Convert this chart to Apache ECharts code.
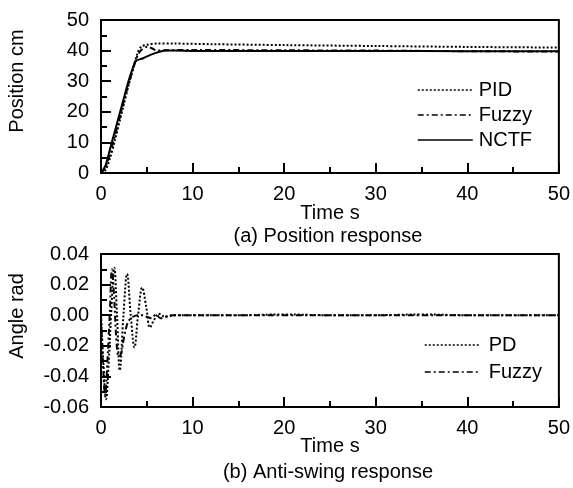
<!DOCTYPE html>
<html>
<head>
<meta charset="utf-8">
<script src="https://cdn.jsdelivr.net/npm/echarts@6/dist/echarts.min.js"></script>
<style>
html,body{margin:0;padding:0;background:#fff;}
#chart{width:573px;height:488px;}
</style>
</head>
<body>
<div id="chart"></div>
<script>
// ---- Data: (a) Position response ----
var xTicks = [0, 10, 20, 30, 40, 50];
var posTicks = [0, 10, 20, 30, 40, 50];
var angleTicks = [-0.06, -0.04, -0.02, 0.00, 0.02, 0.04];

var pidT   = [0, 0.5, 1, 1.5, 2, 2.5, 3, 3.5, 4, 4.4, 5.2, 6.1, 8, 12, 20, 30, 40, 50];
var pidY   = [0, 1, 5, 10.5, 16.5, 22.5, 28.5, 34, 39.3, 41.3, 42.0, 42.3, 42.3, 42.1, 41.8, 41.5, 41.2, 41.0];

var fuzzyT = [0, 0.5, 1, 1.5, 2, 2.5, 3, 3.5, 4, 4.4, 5.1, 5.6, 6.1, 7, 10, 20, 30, 40, 50];
var fuzzyY = [0, 2, 6.5, 12, 17.5, 23.5, 29, 34, 38.4, 40.2, 41.3, 40.7, 40.0, 40.1, 40.2, 40.1, 40.0, 39.8, 39.7];

var nctfT  = [0, 0.5, 1, 1.5, 2, 2.5, 3, 3.5, 3.8, 4.6, 5.4, 6.4, 7.1, 8, 10, 20, 30, 40, 50];
var nctfY  = [0, 2.5, 8, 13.5, 19, 24.5, 30, 34.5, 36.6, 37.5, 38.6, 39.6, 40.0, 40.0, 39.9, 39.9, 39.9, 39.8, 39.8];

// ---- Data: (b) Anti-swing response ----
var pdT   = [0, 0.25, 0.55, 0.85, 1.1, 1.45, 1.75, 2.05, 2.45, 2.85, 3.25, 3.65, 4.05, 4.5, 4.95, 5.35, 5.8, 6.3, 7, 8, 10, 15, 20, 25, 30, 35, 40, 45, 50];
var pdY   = [0, -0.03, -0.055, -0.03, 0.0, 0.031, 0.0, -0.036, 0.0, 0.027, 0.0, -0.021, 0.0, 0.018, 0.005, -0.008, -0.003, 0.001, -0.001, 0.0, 0.0, 0.0, 0.0005, 0.0, 0.0, 0.0005, 0.0, 0.0, 0.0];

var fzT   = [0, 0.2, 0.45, 0.7, 0.95, 1.2, 1.45, 1.7, 1.95, 2.2, 2.5, 2.8, 3.1, 3.5, 4, 4.5, 5, 5.5, 6, 6.5, 7, 8, 10, 15, 20, 25, 30, 35, 40, 45, 50];
var fzY   = [0, -0.03, -0.052, -0.03, 0.0, 0.03, 0.01, -0.018, -0.027, -0.025, -0.015, -0.007, -0.003, -0.001, 0.0, 0.0, -0.001, -0.002, 0.0005, -0.002, -0.001, 0.0, 0.0, 0.0, 0.0, 0.0, 0.0, 0.0, 0.0, 0.0, 0.0];

function pairs(t, v) { return t.map(function (x, i) { return [x, v[i]]; }); }

var FONT = 'Liberation Sans, Arial, sans-serif';
var BLACK = '#000';

function xAxisCfg(gi) {
  return {
    type: 'value', gridIndex: gi, min: xTicks[0], max: xTicks[xTicks.length - 1], interval: 10,
    axisLine: { show: true, onZero: false, lineStyle: { color: BLACK, width: 2 } },
    axisTick: { show: true, inside: true, length: 10, lineStyle: { color: BLACK, width: 2 } },
    minorTick: { show: true, splitNumber: 2, length: 6, lineStyle: { color: BLACK, width: 2 } },
    splitLine: { show: false },
    axisLabel: { color: BLACK, fontFamily: FONT, fontSize: 20, margin: 11 }
  };
}

var legendBase = {
  orient: 'vertical', itemWidth: 55, itemHeight: 14, selectedMode: false,
  itemStyle: { color: 'rgba(0,0,0,0)', borderWidth: 0 },
  lineStyle: { color: BLACK, width: 1.5 }
};

var chart = echarts.init(document.getElementById('chart'), null, { renderer: 'canvas' });
var option = {
  backgroundColor: '#fff',
  animation: false,
  grid: [
    { left: 101, top: 20, width: 458, height: 153, show: true, borderColor: BLACK, borderWidth: 2 },
    { left: 101, top: 254, width: 458, height: 153, show: true, borderColor: BLACK, borderWidth: 2 }
  ],
  xAxis: [xAxisCfg(0), xAxisCfg(1)],
  yAxis: [
    {
      type: 'value', gridIndex: 0, min: posTicks[0], max: posTicks[posTicks.length - 1], interval: 10,
      axisLine: { show: true, onZero: false, lineStyle: { color: BLACK, width: 2 } },
      axisTick: { show: true, inside: true, length: 10, lineStyle: { color: BLACK, width: 2 } },
      minorTick: { show: true, splitNumber: 2, length: 6, lineStyle: { color: BLACK, width: 2 } },
      splitLine: { show: false },
      axisLabel: { color: BLACK, fontFamily: FONT, fontSize: 20, margin: 12 }
    },
    {
      type: 'value', gridIndex: 1, min: angleTicks[0], max: angleTicks[angleTicks.length - 1], interval: 0.02,
      axisLine: { show: true, onZero: false, lineStyle: { color: BLACK, width: 2 } },
      axisTick: { show: true, inside: true, length: 10, lineStyle: { color: BLACK, width: 2 } },
      minorTick: { show: true, splitNumber: 2, length: 6, lineStyle: { color: BLACK, width: 2 } },
      splitLine: { show: false },
      axisLabel: { color: BLACK, fontFamily: FONT, fontSize: 20, margin: 12,
        formatter: function (v) { return (Math.abs(v) < 1e-9 ? 0 : v).toFixed(2); } }
    }
  ],
  legend: [
    Object.assign({}, legendBase, {
      data: ['PID', 'Fuzzy', 'NCTF'], left: 412, top: 75, itemGap: 5,
      textStyle: { color: BLACK, fontFamily: FONT, fontSize: 20, padding: [0, 0, 0, 1] }
    }),
    Object.assign({}, legendBase, {
      data: ['PD', 'Fuzzy'], left: 419, top: 330, itemGap: 7,
      textStyle: { color: BLACK, fontFamily: FONT, fontSize: 20, padding: [0, 0, 0, 4] }
    })
  ],
  series: [
    { name: 'PID', type: 'line', xAxisIndex: 0, yAxisIndex: 0, data: pairs(pidT, pidY), smooth: 0.3,
      symbol: 'none', lineStyle: { color: BLACK, width: 2, type: [2, 2] }, itemStyle: { color: BLACK } },
    { name: 'Fuzzy', type: 'line', xAxisIndex: 0, yAxisIndex: 0, data: pairs(fuzzyT, fuzzyY), smooth: 0.3,
      symbol: 'none', lineStyle: { color: BLACK, width: 2, type: [6, 3, 2, 3] }, itemStyle: { color: BLACK } },
    { name: 'NCTF', type: 'line', xAxisIndex: 0, yAxisIndex: 0, data: pairs(nctfT, nctfY), smooth: 0.3,
      symbol: 'none', lineStyle: { color: BLACK, width: 2, type: 'solid' }, itemStyle: { color: BLACK } },
    { name: 'PD', type: 'line', xAxisIndex: 1, yAxisIndex: 1, data: pairs(pdT, pdY), smooth: 0.4,
      symbol: 'none', lineStyle: { color: BLACK, width: 2, type: [2, 2] }, itemStyle: { color: BLACK } },
    { name: 'Fuzzy', type: 'line', xAxisIndex: 1, yAxisIndex: 1, data: pairs(fzT, fzY), smooth: 0.4,
      symbol: 'none', lineStyle: { color: BLACK, width: 2, type: [6, 3, 2, 3] }, itemStyle: { color: BLACK } }
  ],
  graphic: [
    { type: 'text', x: 17, y: 81, rotation: Math.PI / 2,
      style: { text: 'Position cm', fill: BLACK, font: '20px ' + FONT, textAlign: 'center', textVerticalAlign: 'middle' } },
    { type: 'text', x: 17, y: 316, rotation: Math.PI / 2,
      style: { text: 'Angle rad', fill: BLACK, font: '20px ' + FONT, textAlign: 'center', textVerticalAlign: 'middle' } },
    { type: 'text', x: 330, y: 213,
      style: { text: 'Time s', fill: BLACK, font: '20px ' + FONT, textAlign: 'center', textVerticalAlign: 'middle' } },
    { type: 'text', x: 328, y: 236,
      style: { text: '(a) Position response', fill: BLACK, font: '20px ' + FONT, textAlign: 'center', textVerticalAlign: 'middle' } },
    { type: 'text', x: 330, y: 446,
      style: { text: 'Time s', fill: BLACK, font: '20px ' + FONT, textAlign: 'center', textVerticalAlign: 'middle' } },
    { type: 'text', x: 328, y: 472,
      style: { text: '(b) Anti-swing response', fill: BLACK, font: '20px ' + FONT, textAlign: 'center', textVerticalAlign: 'middle' } }
  ]
};
chart.setOption(option);
</script>
</body>
</html>
